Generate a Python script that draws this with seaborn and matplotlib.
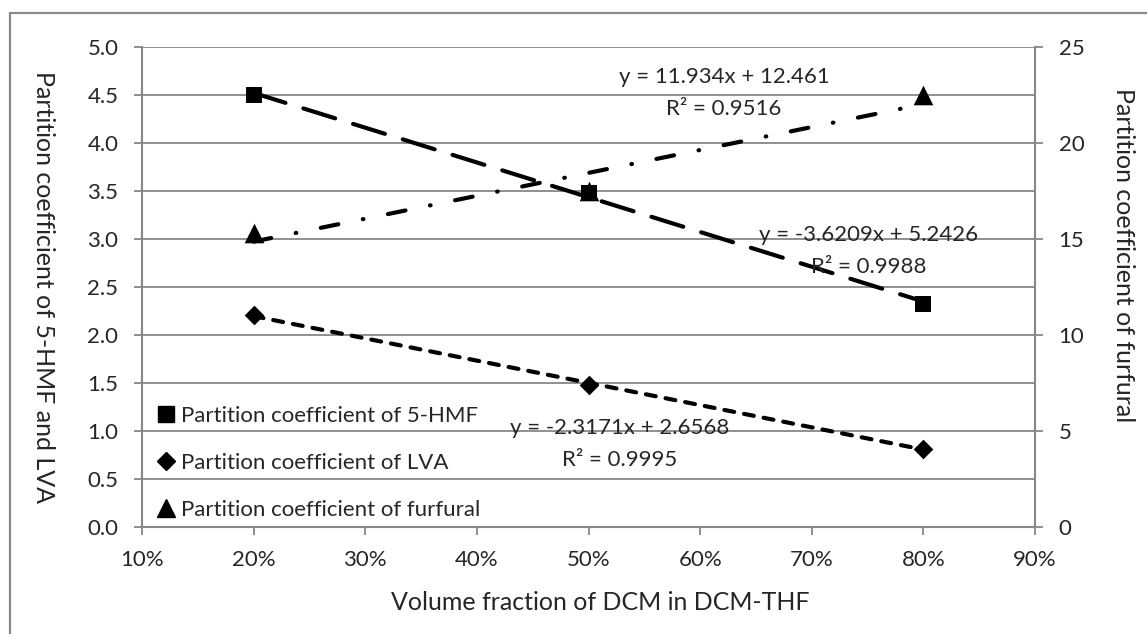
import numpy as np
import pandas as pd
import matplotlib
matplotlib.use("Agg")
import matplotlib.pyplot as plt
import seaborn as sns
from matplotlib.lines import Line2D
from matplotlib.patches import Rectangle
from matplotlib.ticker import FuncFormatter, FixedLocator

# ---------------- data ----------------
dcm_fraction = [0.20, 0.50, 0.80]
hmf_coef = [4.497, 3.475, 2.324]
lva_coef = [2.202, 1.480, 0.812]
furfural_coef = [15.31, 17.49, 22.47]

# trendline labels shown in the chart: slope, intercept, R^2
trend_hmf = [-3.6209, 5.2426, 0.9988]
trend_lva = [-2.3171, 2.6568, 0.9995]
trend_furfural = [11.934, 12.461, 0.9516]

series_labels = ["Partition coefficient of 5-HMF",
                 "Partition coefficient of LVA",
                 "Partition coefficient of furfural"]
x_ticks = [0.1, 0.2, 0.3, 0.4, 0.5, 0.6, 0.7, 0.8, 0.9]
left_ticks = [0.0, 0.5, 1.0, 1.5, 2.0, 2.5, 3.0, 3.5, 4.0, 4.5, 5.0]
right_ticks = [0, 5, 10, 15, 20, 25]
x_title = "Volume fraction of DCM in DCM-THF"
left_title = "Partition coefficient of 5-HMF and LVA"
right_title = "Partition coefficient of furfural"

# ---------------- style ----------------
sns.set_style("white")
plt.rcParams["font.family"] = ["Lato", "DejaVu Sans"]
GRID = "#878787"
FS = 16
FT = 18

W, H = 1147, 634
fig = plt.figure(figsize=(W / 100, H / 100), dpi=100)
L, R, T, B = 142, 1035, 46.7, 526.7
ax = fig.add_axes([L / W, 1 - B / H, (R - L) / W, (B - T) / H])
ax2 = ax.twinx()

ax.set_xlim(0.1, 0.9)
ax.set_ylim(0, 5)
ax2.set_ylim(0, 25)

ax.xaxis.set_major_locator(FixedLocator(x_ticks))
ax.yaxis.set_major_locator(FixedLocator(left_ticks))
ax2.yaxis.set_major_locator(FixedLocator(right_ticks))
ax.xaxis.set_major_formatter(FuncFormatter(lambda v, p: f"{v*100:.0f}%"))
ax.yaxis.set_major_formatter(FuncFormatter(lambda v, p: f"{v:.1f}"))
ax2.yaxis.set_major_formatter(FuncFormatter(lambda v, p: f"{v:.0f}"))

ax.grid(axis="y", color=GRID, lw=1.3)
ax.grid(axis="x", visible=False)
ax2.grid(False)
ax.set_axisbelow(True)

for a in (ax, ax2):
    for s in a.spines.values():
        s.set_visible(False)
ax.spines["left"].set_visible(True)
ax.spines["bottom"].set_visible(True)
ax2.spines["right"].set_visible(True)
for s in (ax.spines["left"], ax.spines["bottom"], ax2.spines["right"]):
    s.set_color(GRID)
    s.set_linewidth(1.5)

ax.tick_params(axis="y", direction="out", length=6, width=1.3, color=GRID,
               labelsize=FS, pad=11, left=True)
ax.tick_params(axis="x", direction="out", length=6, width=1.3, color=GRID,
               labelsize=FS, pad=11, bottom=True)
ax2.tick_params(axis="y", direction="out", length=6, width=1.3, color=GRID,
                labelsize=FS, pad=11, right=True)

# ---------------- trendlines ----------------
x_span = np.array([min(dcm_fraction), max(dcm_fraction)])
LW = 3.0


def trend(axis, coef, dash):
    m, b, _ = coef
    df = pd.DataFrame({"x": x_span, "y": m * x_span + b})
    sns.lineplot(data=df, x="x", y="y", ax=axis, color="black", lw=LW,
                 linestyle=(0, dash), dash_capstyle="round",
                 solid_capstyle="round", zorder=3)


trend(ax, trend_hmf, (8, 4.5))
trend(ax, trend_lva, (2.4, 2.4))
trend(ax2, trend_furfural, (4.3, 6.0, 0.15, 6.0))

# ---------------- markers ----------------
sns.scatterplot(x=dcm_fraction, y=hmf_coef, ax=ax, marker="s", s=135,
                color="black", edgecolor="black", linewidth=0, zorder=4)
sns.scatterplot(x=dcm_fraction, y=lva_coef, ax=ax, marker="D", s=100,
                color="black", edgecolor="black", linewidth=0, zorder=4)
sns.scatterplot(x=dcm_fraction, y=furfural_coef, ax=ax2, marker="^", s=200,
                color="black", edgecolor="black", linewidth=0, zorder=4)

ax.set_xlabel("")
ax.set_ylabel("")
ax2.set_ylabel("")

# ---------------- trendline equations ----------------
def eq_text(coef):
    m, b, r2 = coef
    sign = "+" if b >= 0 else "-"
    return f"y = {m:g}x {sign} {abs(b):g}", f"R² = {r2:g}"


def px2data(px, py):
    return 0.1 + (px - L) / (R - L) * 0.8, (B - py) / (B - T) * 5


for coef, cx, y1, y2 in [(trend_furfural, 724, 77, 109),
                         (trend_hmf, 869, 235, 267),
                         (trend_lva, 620, 428, 460)]:
    e1, e2 = eq_text(coef)
    xd, yd1 = px2data(cx, y1)
    _, yd2 = px2data(cx, y2)
    ax2.text(xd, yd1 * 5, e1, ha="center", va="center", fontsize=FS, zorder=6)
    ax2.text(xd, yd2 * 5, e2, ha="center", va="center", fontsize=FS, zorder=6)

# ---------------- legend ----------------
handles = [Line2D([], [], ls="none", marker="s", ms=11, color="black"),
           Line2D([], [], ls="none", marker="D", ms=9, color="black"),
           Line2D([], [], ls="none", marker="^", ms=13, color="black")]
leg = ax2.legend(handles, series_labels, loc="center left",
                 bbox_to_anchor=(157 / W, 1 - 463 / H),
                 bbox_transform=fig.transFigure, frameon=False,
                 fontsize=FS, handlelength=0.8, handletextpad=0.3,
                 labelspacing=1.22, borderpad=0, borderaxespad=0)
leg.set_zorder(7)

# ---------------- axis titles ----------------
fig.text(600 / W, 1 - 602 / H, x_title, ha="center", va="center", fontsize=FT)
fig.text(43 / W, 1 - 287 / H, left_title, ha="center", va="center",
         rotation=270, fontsize=FT)
fig.text(1123 / W, 1 - 255 / H, right_title, ha="center", va="center",
         rotation=270, fontsize=FT)

# chart-area border (clipped at right and bottom like the reference)
fig.patches.append(Rectangle((10 / W, -0.1), 1.2, 1.1 - 13 / H,
                             transform=fig.transFigure, fill=False,
                             edgecolor="#8a8a8a", lw=1.6))

fig.savefig("out.png", dpi=100)
